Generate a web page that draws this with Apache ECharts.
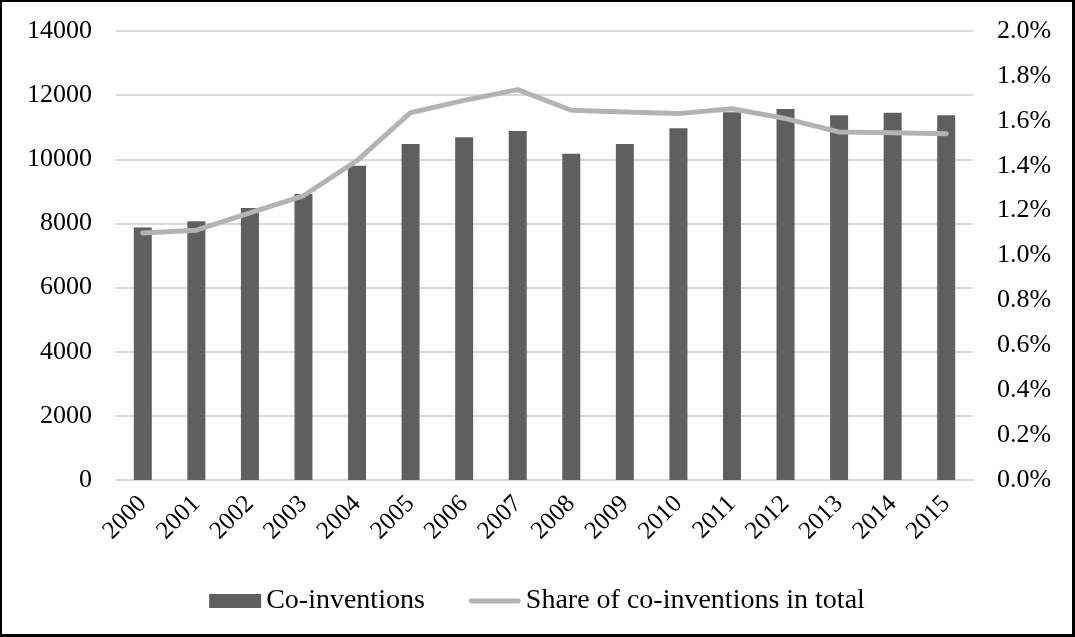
<!DOCTYPE html>
<html>
<head>
<meta charset="utf-8">
<script src="https://cdn.jsdelivr.net/npm/echarts@6/dist/echarts.min.js"></script>
<style>
  html, body { margin: 0; padding: 0; background: #fff; }
  #chart {
    width: 1075px; height: 637px; box-sizing: border-box;
    border-left: 2px solid #000; border-top: 2px solid #000;
    border-right: 3px solid #000; border-bottom: 3px solid #000;
  }
</style>
</head>
<body>
<div id="chart"></div>
<script>
const years = ['2000', '2001', '2002', '2003', '2004', '2005', '2006', '2007',
  '2008', '2009', '2010', '2011', '2012', '2013', '2014', '2015'];
const coInventions = [7870, 8070, 8480, 8920, 9800, 10480, 10690, 10880,
  10170, 10480, 10970, 11470, 11570, 11370, 11450, 11370];
const sharePct = [1.10, 1.113, 1.19, 1.266, 1.423, 1.636, 1.691, 1.739,
  1.647, 1.639, 1.632, 1.654, 1.61, 1.55, 1.547, 1.542];

const font = 'Liberation Serif, Times New Roman, serif';

const chart = echarts.init(document.getElementById('chart'));
const option = {
  backgroundColor: '#fff',
  animation: false,
  textStyle: { fontFamily: font, color: '#000' },
  grid: { left: 114, right: 99, top: 29, bottom: 154 },
  legend: {
    bottom: 14,
    left: 'center',
    itemWidth: 52,
    itemHeight: 14,
    itemGap: 44,
    textStyle: { fontFamily: font, fontSize: 28, color: '#000' },
    data: [
      { name: 'Co-inventions', icon: 'rect' },
      { name: 'Share of co-inventions in total', icon: 'path://M2,0 L50,0 A2,2 0 0 1 50,5 L2,5 A2,2 0 0 1 2,0 Z' }
    ]
  },
  xAxis: {
    type: 'category',
    data: years,
    axisLine: { lineStyle: { color: '#d9d9d9', width: 2 } },
    axisTick: { show: false },
    axisLabel: {
      rotate: 45, margin: 20, fontSize: 25, color: '#000', fontFamily: font
    }
  },
  yAxis: [
    {
      type: 'value', min: 0, max: 14000, interval: 2000,
      axisLine: { show: false },
      axisTick: { show: false },
      axisLabel: {
        margin: 24, fontSize: 26, color: '#000', fontFamily: font,
        formatter: v => String(v)
      },
      splitLine: { lineStyle: { color: '#d9d9d9', width: 2 } }
    },
    {
      type: 'value', min: 0, max: 2.0, interval: 0.2,
      axisLine: { show: false },
      axisTick: { show: false },
      splitLine: { show: false },
      axisLabel: {
        margin: 24, fontSize: 26, color: '#000', fontFamily: font,
        formatter: v => v.toFixed(1) + '%'
      }
    }
  ],
  series: [
    {
      name: 'Co-inventions',
      type: 'bar',
      data: coInventions,
      barWidth: 18,
      itemStyle: { color: '#5f5f5f' }
    },
    {
      name: 'Share of co-inventions in total',
      type: 'line',
      yAxisIndex: 1,
      data: sharePct,
      symbol: 'none',
      lineStyle: { color: '#b3b3b3', width: 5, cap: 'round', join: 'round' },
      itemStyle: { color: '#b3b3b3' }
    }
  ]
};

option && chart.setOption(option);
</script>
</body>
</html>
